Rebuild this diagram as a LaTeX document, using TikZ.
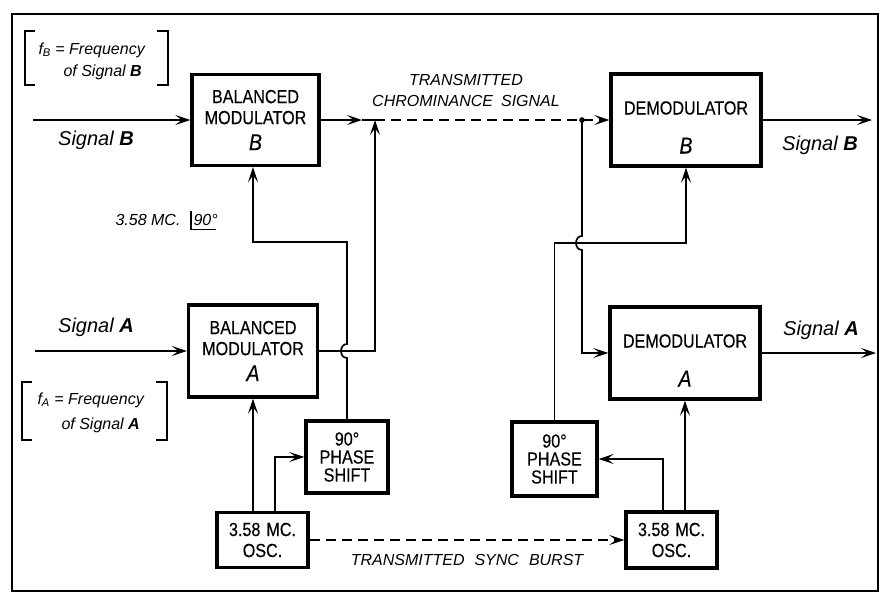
\documentclass[tikz,border=0pt]{standalone}
\usepackage{fontspec}
\setmainfont{Liberation Sans}
\newfontfamily\boxfont{Liberation Sans}[FakeStretch=0.85, FakeBold=0.3]
\usetikzlibrary{arrows.meta, positioning}

\tikzset{
  blk/.style={draw, line width=3.4pt, inner sep=0pt, align=center,
    font=\boxfont\fontsize{19}{21}\selectfont},
  lnk/.style={line width=1.7pt},
  arr/.style={lnk, -{Stealth[length=15pt, width=10pt, inset=6.5pt]}},
  brst/.style={dash pattern=on 10pt off 6pt},
  sig/.style={font=\itshape\fontsize{20}{22}\selectfont},
  note/.style={font=\itshape\fontsize{16}{21}\selectfont},
}
\newcommand{\blkletter}[1]{{\itshape\fontsize{23}{23}\selectfont #1}}

\begin{document}
\begin{tikzpicture}[x=1pt, y=-1pt]
\useasboundingbox (0,0) rectangle (881,597);
\draw[line width=2.8pt] (12,14) rectangle (878,591);

% boxes
\node[blk, minimum width=127pt, minimum height=91pt] (modB) at (255.5,120) {BALANCED\\MODULATOR\\[5pt]\blkletter{B}};
\node[blk, minimum width=129pt, minimum height=92pt] (modA) at (253,351) {BALANCED\\MODULATOR\\[5pt]\blkletter{A}};
\node[blk, minimum width=82pt, minimum height=72pt, font=\boxfont\fontsize{19}{18}\selectfont] (shiftL) at (347,457) {90°\\PHASE\\SHIFT};
\node[blk, minimum width=91pt, minimum height=55pt] (oscL) at (262.5,540) {3.58\hspace{6pt}MC.\\OSC.};
\node[blk, minimum width=150pt, minimum height=92pt] (demB) at (686,120) {\rule{0pt}{28pt}DEMODULATOR\\[18pt]\blkletter{B}};
\node[blk, minimum width=150pt, minimum height=92pt] (demA) at (685,353) {\rule{0pt}{28pt}DEMODULATOR\\[18pt]\blkletter{A}};
\node[blk, minimum width=85pt, minimum height=74pt, font=\boxfont\fontsize{19}{18}\selectfont] (shiftR) at (554.5,459) {90°\\PHASE\\SHIFT};
\node[blk, minimum width=91pt, minimum height=56pt] (oscR) at (671.5,540) {3.58\hspace{6pt}MC.\\OSC.};

% free ends and corners
\coordinate (inB) at (33,120);
\coordinate (inA) at (35,351);
\coordinate (outB) at (872,120);
\coordinate (outA) at (876,353);
\coordinate (chMid) at (362,120);
\coordinate (chJoin) at (375,120);
\coordinate (tap) at (582,120);
\coordinate (cornL) at (253,242);
\coordinate (cornR) at (686,243);

% inputs and outputs
\draw[arr] (inB) -- (modB.west);
\draw[arr] (inA) -- (modA.west);
\draw[arr] (demB.east) -- (outB);
\draw[arr] (demA.east) -- (outA);

% chrominance path
\draw[arr] (modB.east) -- (chMid);
\draw[lnk] (chMid) -- (chJoin);
\draw[arr, brst] (chJoin) -- (demB.west);
\draw[arr] (modA.east) -| (chJoin);
\fill (tap) circle (2.8pt);

% transmitter oscillator and phase shift
\draw[arr] (oscL.north -| modA.south) -- (modA.south);
\draw[arr] ([xshift=12.5pt]oscL.north) |- (shiftL.west);
\draw[arr] (shiftL.north) -- (347,358) .. controls (339,358) and (339,344) .. (347,344)
  -- (cornL -| shiftL.north) -- (cornL) -- (cornL |- modB.south);

% sync burst
\draw[arr, brst] (oscL.east) -- (oscR.west);

% receiver oscillator and phase shift
\draw[arr] (oscR.north -| demA.south) -- (demA.south);
\draw[arr] ([xshift=-8.5pt]oscR.north) |- (shiftR.east);
\draw[arr] (shiftR.north) |- (cornR) -- (demB.south);
\draw[arr] (tap) -- (582,236) .. controls (574,236) and (574,250) .. (582,250)
  -- (tap |- demA.west) -- (demA.west);

% labels
\node[sig] (sigBin) at (96,140) {Signal \textbf{B}};
\node[sig] (sigAin) at (96,327) {Signal \textbf{A}};
\node[sig] (sigBout) at (820,145) {Signal \textbf{B}};
\node[sig] (sigAout) at (821,330) {Signal \textbf{A}};
\node[note, align=center] (chroma) at (466,90) {TRANSMITTED\\CHROMINANCE\hspace{8pt}SIGNAL};
\node[note] (sync) at (467,560) {TRANSMITTED\hspace{10pt}SYNC\hspace{10pt}BURST};
\node[note, anchor=east] (mc) at (184,220) {3.58 MC.};
\node[note, right=6pt of mc] (ang) {90°};
\draw[line width=1.2pt] ([xshift=1pt]ang.north west) |- ([xshift=-5pt]ang.south east);

% frequency notes
\node[note, anchor=west] (fB1) at (35,50) {f\textsubscript{B} = Frequency};
\node[note, anchor=west] (fB2) at (60,72) {of Signal \textbf{B}};
\draw[line width=1.4pt] (35,31) -| (25,85) -- (35,85);
\draw[line width=1.4pt] (157,31) -| (168,85) -- (157,85);
\node[note, anchor=west] (fA1) at (34,400) {f\textsubscript{A} = Frequency};
\node[note, anchor=west] (fA2) at (58,425) {of Signal \textbf{A}};
\draw[line width=1.4pt] (32,382) -| (22,440) -- (32,440);
\draw[line width=1.4pt] (156,382) -| (167,440) -- (156,440);
\end{tikzpicture}
\end{document}
